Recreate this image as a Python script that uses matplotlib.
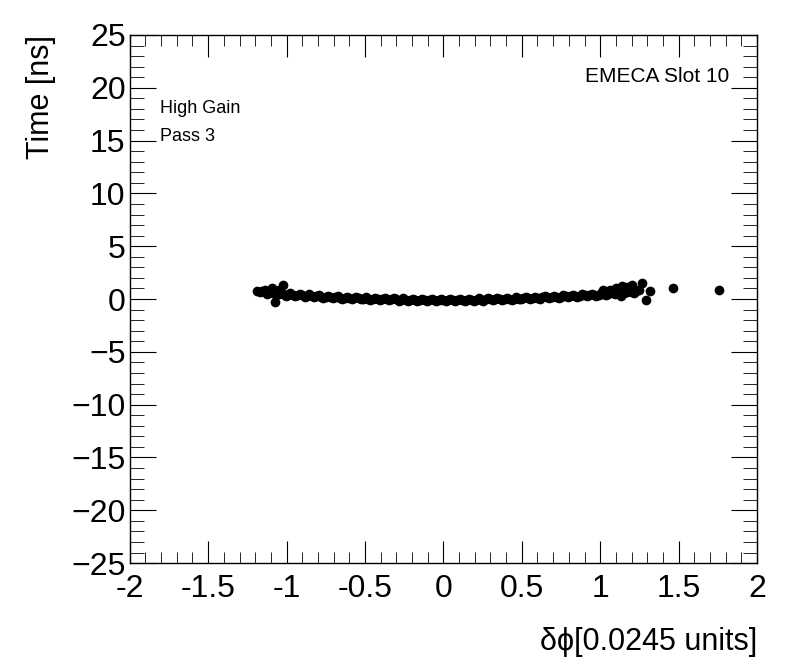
import matplotlib
matplotlib.use("Agg")
import matplotlib.pyplot as plt
from matplotlib.ticker import MultipleLocator, FormatStrFormatter

plt.rcParams['font.family'] = ['Liberation Sans', 'DejaVu Sans']

# main band of points (delta phi, time)
dphi = [-1.17, -1.14, -1.11, -1.08, -1.05, -1.02, -0.99, -0.96, -0.93, -0.90,
        -0.87, -0.84, -0.81, -0.78, -0.75, -0.72, -0.69, -0.66, -0.63, -0.60,
        -0.57, -0.54, -0.51, -0.48, -0.45, -0.42, -0.39, -0.36, -0.33, -0.30,
        -0.27, -0.24, -0.21, -0.18, -0.15, -0.12, -0.09, -0.06, -0.03, 0.00,
        0.03, 0.06, 0.09, 0.12, 0.15, 0.18, 0.21, 0.24, 0.27, 0.30,
        0.33, 0.36, 0.39, 0.42, 0.45, 0.48, 0.51, 0.54, 0.57, 0.60,
        0.63, 0.66, 0.69, 0.72, 0.75, 0.78, 0.81, 0.84, 0.87, 0.90,
        0.93, 0.96, 0.99, 1.02, 1.05, 1.08, 1.11, 1.14, 1.17, 1.20, 1.23]
time = [0.70, 0.65, 0.60, 0.55, 0.50, 0.45, 0.42, 0.40, 0.36, 0.34,
        0.32, 0.30, 0.26, 0.24, 0.22, 0.20, 0.17, 0.14, 0.12, 0.10,
        0.08, 0.07, 0.05, 0.04, 0.02, 0.01, 0.00, -0.02, -0.03, -0.04,
        -0.05, -0.05, -0.06, -0.07, -0.07, -0.08, -0.08, -0.08, -0.08, -0.09,
        -0.09, -0.09, -0.09, -0.08, -0.08, -0.07, -0.06, -0.05, -0.04, -0.03,
        -0.02, -0.01, 0.00, 0.02, 0.04, 0.05, 0.07, 0.09, 0.11, 0.13,
        0.15, 0.17, 0.20, 0.22, 0.24, 0.26, 0.28, 0.30, 0.32, 0.34,
        0.36, 0.38, 0.42, 0.45, 0.50, 0.55, 0.58, 0.62, 0.65, 0.68, 0.72]

# upper edge of the band
dphi_hi = [-1.155, -1.095, -1.035, -0.975, -0.915, -0.855, -0.795, -0.735,
           -0.675, -0.615, -0.555, -0.495, -0.435, -0.375, -0.315, -0.255,
           -0.195, -0.135, -0.075, -0.015, 0.045, 0.105, 0.165, 0.225,
           0.285, 0.345, 0.405, 0.465, 0.525, 0.585, 0.645, 0.705,
           0.765, 0.825, 0.885, 0.945, 1.005, 1.065, 1.125, 1.185]
time_hi = [0.80, 0.70, 0.60, 0.53, 0.47, 0.43, 0.37, 0.33,
           0.28, 0.23, 0.20, 0.16, 0.13, 0.11, 0.08, 0.07,
           0.05, 0.04, 0.04, 0.03, 0.03, 0.04, 0.05, 0.06,
           0.08, 0.10, 0.13, 0.16, 0.20, 0.24, 0.28, 0.33,
           0.37, 0.41, 0.45, 0.49, 0.55, 0.65, 0.72, 0.78]

# lower edge of the band
dphi_lo = [-1.125, -1.065, -1.005, -0.945, -0.885, -0.825, -0.765, -0.705,
           -0.645, -0.585, -0.525, -0.465, -0.405, -0.345, -0.285, -0.225,
           -0.165, -0.105, -0.045, 0.015, 0.075, 0.135, 0.195, 0.255,
           0.315, 0.375, 0.435, 0.495, 0.555, 0.615, 0.675, 0.735,
           0.795, 0.855, 0.915, 0.975, 1.035, 1.095, 1.155, 1.215]
time_lo = [0.52, 0.42, 0.33, 0.28, 0.23, 0.18, 0.13, 0.08,
           0.03, -0.01, -0.04, -0.07, -0.09, -0.12, -0.14, -0.15,
           -0.17, -0.18, -0.18, -0.19, -0.19, -0.18, -0.17, -0.15,
           -0.12, -0.10, -0.07, -0.04, 0.00, 0.04, 0.08, 0.13,
           0.17, 0.21, 0.25, 0.30, 0.37, 0.46, 0.54, 0.60]

# scattered points near the edges
dphi_out = [-1.19, -1.14, -1.09, -1.02, -1.075, -1.05, 1.02, 1.06, 1.14, 1.20,
            1.10, 1.17, 1.265, 1.32, 1.295, 1.465, 1.76, 1.25, 1.13]
time_out = [0.73, 0.88, 1.04, 1.35, -0.25, 0.90, 0.88, 0.90, 1.20, 1.35,
            1.00, 1.10, 1.50, 0.80, -0.06, 1.00, 0.90, 0.90, 0.30]

fig = plt.figure(figsize=(7.96, 6.72), dpi=100)
ax = fig.add_axes([0.163, 0.162, 0.788, 0.786])

ms = 7
for xs, ys in [(dphi, time), (dphi_hi, time_hi), (dphi_lo, time_lo),
               (dphi_out, time_out)]:
    ax.plot(xs, ys, 'o', color='black', markersize=ms, markeredgewidth=0)

ax.set_xlim(-2, 2)
ax.set_ylim(-25, 25)
ax.xaxis.set_major_locator(MultipleLocator(0.5))
ax.xaxis.set_minor_locator(MultipleLocator(0.1))
ax.yaxis.set_major_locator(MultipleLocator(5))
ax.yaxis.set_minor_locator(MultipleLocator(1))
ax.xaxis.set_major_formatter(FormatStrFormatter('%g'))

ax.tick_params(which='both', direction='in', top=True, right=True, labelsize=23)
ax.tick_params(axis='x', which='major', length=16, pad=8)
ax.tick_params(axis='x', which='minor', length=8)
ax.tick_params(axis='y', which='major', length=19, pad=3)
ax.tick_params(axis='y', which='minor', length=10)
for s in ax.spines.values():
    s.set_linewidth(1.0)

ax.set_xlabel('δϕ[0.0245 units]', fontsize=22, ha='right')
ax.xaxis.set_label_coords(1.0, -0.12)
ax.set_ylabel('Time [ns]', fontsize=22, ha='right')
ax.yaxis.set_label_coords(-0.117, 1.0)

ax.text(0.955, 0.922, 'EMECA Slot 10', transform=ax.transAxes, ha='right',
        va='center', fontsize=15)
ax.text(0.048, 0.86, 'High Gain', transform=ax.transAxes, ha='left',
        va='center', fontsize=13)
ax.text(0.048, 0.807, 'Pass 3', transform=ax.transAxes, ha='left',
        va='center', fontsize=13)

fig.savefig('out.png', dpi=100)
